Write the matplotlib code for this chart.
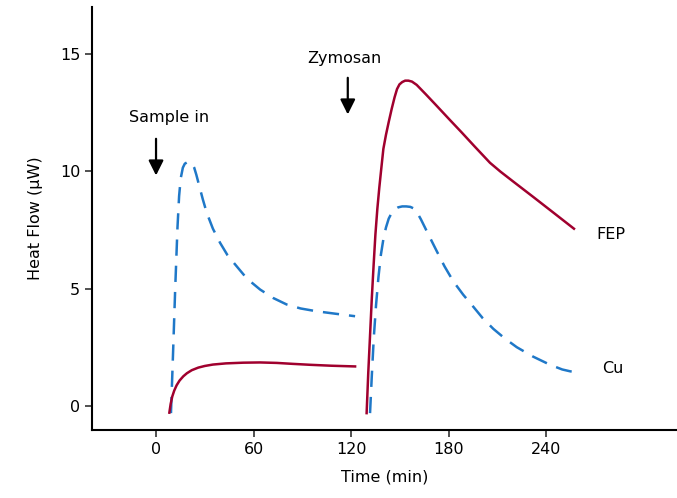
import matplotlib
matplotlib.use("Agg")
import matplotlib.pyplot as plt

# Data (time in min, heat flow in µW)
cu1_t = [9.2, 10.5, 11.8, 13.2, 14.2, 15.2, 16.5, 17.7, 18.9, 20.5, 22.0, 23.5, 24.8, 26.7, 28.8, 31.2, 35.0, 39.4, 44.0, 49.6, 56.0, 64.0, 72.0, 80.4, 89.0, 98.9, 110.0, 122.5]
cu1_y = [-0.31, 2.3, 5.0, 7.6, 8.94, 9.7, 10.15, 10.32, 10.37, 10.4, 10.34, 10.15, 9.85, 9.35, 8.8, 8.23, 7.55, 6.95, 6.42, 5.95, 5.42, 4.96, 4.6, 4.32, 4.15, 4.03, 3.93, 3.82]

fep1_t = [8.2, 9.0, 10.0, 11.2, 12.7, 14.5, 16.8, 19.0, 22.0, 26.0, 30.0, 35.0, 43.0, 53.7, 64.0, 74.3, 84.0, 94.8, 108.0, 122.5]
fep1_y = [-0.29, 0.08, 0.4, 0.65, 0.88, 1.08, 1.26, 1.39, 1.52, 1.63, 1.7, 1.76, 1.81, 1.84, 1.85, 1.83, 1.79, 1.75, 1.71, 1.68]

fep2_t = [129.6, 130.6, 131.7, 132.8, 133.9, 135.0, 136.2, 137.4, 138.6, 139.9, 141.5, 143.2, 145.0, 146.8, 148.3, 149.8, 151.5, 153.3, 155.3, 157.5, 160.4, 166.0, 172.0, 180.9, 188.0, 196.0, 205.5, 212.0, 220.0, 232.2, 245.0, 257.2]
fep2_y = [-0.31, 1.4, 3.0, 4.6, 6.0, 7.3, 8.4, 9.3, 10.1, 10.95, 11.55, 12.1, 12.65, 13.15, 13.5, 13.7, 13.8, 13.86, 13.86, 13.82, 13.68, 13.28, 12.84, 12.18, 11.66, 11.06, 10.36, 9.98, 9.55, 8.9, 8.21, 7.55]

cu2_t = [131.7, 132.8, 134.0, 135.4, 136.9, 138.4, 139.9, 141.5, 143.2, 145.0, 147.0, 149.0, 151.5, 154.0, 156.5, 159.0, 161.0, 163.0, 165.5, 168.5, 172.7, 177.5, 183.0, 189.0, 195.3, 201.0, 207.6, 214.5, 222.0, 232.0, 242.5, 250.0, 255.0, 259.9]
cu2_y = [-0.31, 1.3, 2.9, 4.3, 5.5, 6.45, 7.1, 7.6, 7.98, 8.22, 8.38, 8.46, 8.5, 8.5, 8.48, 8.4, 8.2, 7.95, 7.6, 7.18, 6.6, 5.95, 5.3, 4.74, 4.22, 3.74, 3.28, 2.88, 2.5, 2.1, 1.75, 1.55, 1.47, 1.44]

x_ticks = [0, 60, 120, 180, 240]
y_ticks = [0, 5, 10, 15]

red = "#A0002E"
blue = "#1F78C8"

fig = plt.figure(figsize=(6.77, 4.98), dpi=100)
ax = fig.add_axes([0.1359, 0.1365, 0.8641, 0.8495])

dash = (0, (6.5, 4))
ax.plot(cu1_t, cu1_y, color=blue, lw=1.8, linestyle=dash)
ax.plot(cu2_t, cu2_y, color=blue, lw=1.8, linestyle=dash)
ax.plot(fep1_t, fep1_y, color=red, lw=1.8)
ax.plot(fep2_t, fep2_y, color=red, lw=1.8)

ax.set_xlim(-39.4, 320.6)
ax.set_ylim(-1.03, 17.0)
ax.set_xticks(x_ticks)
ax.set_yticks(y_ticks)
ax.tick_params(labelsize=11.5, length=5, width=1.2, color="#333333")
for s in ["top", "right"]:
    ax.spines[s].set_visible(False)
for s in ["left", "bottom"]:
    ax.spines[s].set_linewidth(1.5)
ax.set_xlabel("Time (min)", fontsize=11.5, labelpad=9)
ax.set_ylabel("Heat Flow (µW)", fontsize=11.5, labelpad=12)

arrow_kw = dict(arrowstyle="-|>,head_width=0.45,head_length=0.9", color="black", lw=1.6)
ax.annotate("", xy=(0, 9.7), xytext=(0, 11.5), arrowprops=arrow_kw)
ax.text(8, 12.3, "Sample in", ha="center", va="center", fontsize=11.5)
ax.annotate("", xy=(118, 12.3), xytext=(118, 14.1), arrowprops=arrow_kw)
ax.text(115.7, 14.8, "Zymosan", ha="center", va="center", fontsize=11.5)
ax.text(270.8, 7.3, "FEP", ha="left", va="center", fontsize=11.5)
ax.text(274.5, 1.58, "Cu", ha="left", va="center", fontsize=11.5)

fig.savefig("out.png", dpi=100)
